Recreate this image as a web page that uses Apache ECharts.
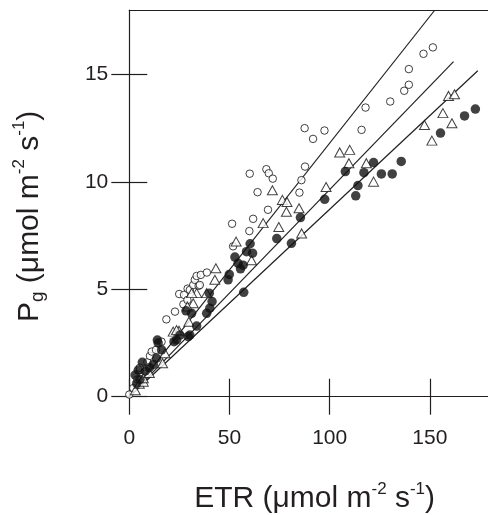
<!DOCTYPE html>
<html><head><meta charset="utf-8">
<script src="https://cdn.jsdelivr.net/npm/echarts@6/dist/echarts.min.js"></script>
<style>html,body{margin:0;padding:0;background:#fff}#c{width:488px;height:515px}</style>
</head><body><div id="c"></div>
<script>
const xTicks = [0, 50, 100, 150];
const yTicks = [0, 5, 10, 15];
const openCircles = [[0,0.1],[2,0.4],[4,0.8],[5.3,1.24],[5.3,1.35],[9,1.6],[10.3,1.9],[11.2,2.1],[13.3,2.18],[16.1,2.56],[18.5,3.6],[22.8,3.96],[24.9,4.78],[27.3,4.74],[27,4.3],[29,4.5],[29.1,5.03],[30.2,4.97],[31.9,5.2],[34.6,5.16],[32.7,5.44],[33.6,5.62],[35.7,5.67],[38.7,5.78],[35.2,5.2],[51.3,8.05],[51.8,7.0],[59.9,7.71],[61.8,8.28],[60.1,10.38],[64.0,9.52],[68.4,10.59],[69.6,10.4],[71.6,10.15],[69.2,8.7],[84.9,9.5],[85.9,10.08],[87.7,10.71],[87.5,12.5],[91.7,12.0],[97.4,12.39],[115.9,12.42],[117.9,13.46],[130.2,13.74],[137.2,14.24],[139.5,14.52],[139.5,15.25],[146.8,15.96],[151.5,16.26]];
const triangles = [[0,-0.1],[3,0.3],[5,0.6],[7,0.7],[7,0.86],[10,1.1],[16.6,1.56],[17.8,2.02],[21.9,3.03],[24.8,3.07],[23.6,3.1],[29.7,3.49],[31.9,4.35],[33.6,4.82],[31.1,4.82],[29,4.2],[38.6,4.82],[42.7,5.44],[43.2,5.98],[53.3,7.22],[61,6.35],[66.8,8.08],[74.6,7.9],[71.4,9.61],[76.4,9.16],[78.7,9.06],[78.4,8.61],[84.7,8.77],[86.0,7.6],[98.2,9.76],[105,11.37],[110,11.49],[109.6,10.87],[118.3,10.87],[121.9,10.01],[147.3,12.65],[151,11.92],[156.5,13.2],[159.3,14.0],[162.3,14.08],[161,12.73]];
const filledCircles = [[-1.3,0.11],[2.9,1.01],[3.7,0.62],[4.5,1.24],[5.3,0.8],[6.5,1.6],[8,1.2],[10,1.35],[12,1.5],[13.6,1.79],[14,2.64],[14.4,2.5],[16.1,2.18],[22.3,2.56],[23.6,2.64],[25.3,2.87],[29.4,2.8],[30.2,2.87],[33.6,3.29],[28.3,4.0],[31.1,3.88],[38.6,3.88],[40.2,4.12],[41.3,4.43],[39.9,4.82],[49.3,5.44],[49.9,5.69],[55.5,5.95],[56.8,6.12],[54.3,6.21],[52.7,6.5],[58.5,6.75],[61.5,6.68],[60.3,7.12],[57.1,4.86],[73.6,7.36],[80.9,7.14],[85.4,8.34],[97.5,9.19],[113,9.35],[114.1,9.83],[107.8,10.48],[117.1,10.43],[121.9,10.9],[125.8,10.37],[131.2,10.37],[135.7,10.95],[155.3,12.27],[167.3,13.07],[172.7,13.39]];
const fitOpen = [[0,0],[152.5,18]];
const fitTriangles = [[0,0],[161.8,15.6]];
const fitFilled = [[0,0],[173.9,15.17]];

const ink = '#231f20';
const markInk = '#111';
const font = '"Liberation Sans", Arial, sans-serif';
const axLine = {color: ink, width: 1.2};
const rich = {
  a: {fontSize: 30, fontFamily: font, color: ink, lineHeight: 36},
  sup: {fontSize: 17, fontFamily: font, color: ink, verticalAlign: 'top', lineHeight: 17},
  sub: {fontSize: 19, fontFamily: font, color: ink, verticalAlign: 'bottom', lineHeight: 19}
};
function baseAxis(extra) {
  return Object.assign({type: 'value', splitLine: {show: false}, axisLine: {show: false, onZero: false}, axisTick: {show: false}, axisLabel: {show: false}}, extra);
}
const chart = echarts.init(document.getElementById('c'), null, {renderer: 'canvas'});
chart.setOption({
  animation: false,
  grid: {left: 129.3, right: -2, top: 10, bottom: 118.3, containLabel: false, outerBoundsMode: 'none'},
  xAxis: [
    baseAxis({min: 0, max: 180, position: 'bottom',
      axisLine: {show: true, onZero: false, lineStyle: axLine},
      axisTick: {show: true, inside: true, length: 18, customValues: xTicks, lineStyle: axLine},
      axisLabel: {show: true, customValues: xTicks, margin: 31, fontSize: 21, fontFamily: font, color: ink},
      name: '{a|ETR (μmol m}{sup|-2}{a| s}{sup|-1}{a|)}', nameLocation: 'middle', nameGap: 84,
      nameTextStyle: {rich: rich, padding: [0, 0, 0, 10]}
    }),
    baseAxis({min: 0, max: 180, position: 'bottom',
      axisTick: {show: true, inside: false, length: 18, customValues: xTicks, lineStyle: axLine}}),
    baseAxis({min: 0, max: 180, position: 'top', axisLine: {show: true, onZero: false, lineStyle: axLine}})
  ],
  yAxis: [
    baseAxis({min: 0, max: 18, position: 'left',
      axisLine: {show: true, onZero: false, lineStyle: axLine},
      axisTick: {show: true, inside: true, length: 18, customValues: yTicks, lineStyle: axLine},
      axisLabel: {show: true, customValues: yTicks, margin: 21, fontSize: 21, fontFamily: font, color: ink},
      name: '{a|P}{sub|g}{a| (μmol m}{sup|-2}{a| s}{sup|-1}{a|)}', nameLocation: 'middle', nameGap: 82,
      nameTextStyle: {rich: rich, padding: [0, 26, 0, 0]}
    }),
    baseAxis({min: 0, max: 18, position: 'left',
      axisTick: {show: true, inside: false, length: 18, customValues: yTicks, lineStyle: axLine}})
  ],
  series: [
    {type: 'line', data: fitOpen, symbol: 'none', lineStyle: {color: ink, width: 1.2}, z: 1, silent: true},
    {type: 'line', data: fitTriangles, symbol: 'none', lineStyle: {color: ink, width: 1.2}, z: 1, silent: true},
    {type: 'line', data: fitFilled, symbol: 'none', lineStyle: {color: ink, width: 1.2}, z: 1, silent: true},
    {type: 'scatter', data: openCircles, symbol: 'circle', symbolSize: 7.5, itemStyle: {color: '#fff', borderColor: markInk, borderWidth: 1}, z: 2},
    {type: 'scatter', data: triangles, symbol: 'triangle', symbolSize: [10, 9], itemStyle: {color: '#fff', borderColor: markInk, borderWidth: 1}, z: 3},
    {type: 'scatter', data: filledCircles, symbol: 'circle', symbolSize: 9.5, itemStyle: {color: markInk}, z: 4}
  ]
});
</script></body></html>
